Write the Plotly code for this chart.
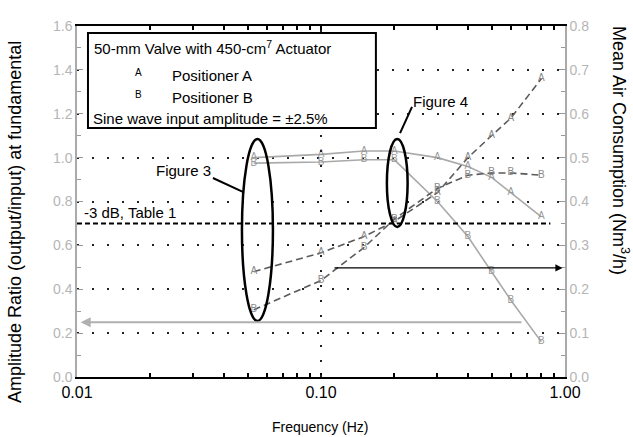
import plotly.graph_objects as go

# ---------------- data ----------------
freq = [0.053, 0.1, 0.15, 0.2, 0.3, 0.4, 0.5, 0.6, 0.8]
# amplitude ratio (left axis)
amp_a = [1.0, 1.015, 1.03, 1.03, 1.0, 0.96, 0.91, 0.84, 0.73]
amp_b = [0.975, 0.98, 0.99, 0.99, 0.80, 0.64, 0.48, 0.35, 0.16]
# mean air consumption (right axis, Nm3/h)
air_a = [0.24, 0.283, 0.32, 0.355, 0.42, 0.50, 0.55, 0.59, 0.68]
air_b = [0.153, 0.22, 0.295, 0.36, 0.43, 0.46, 0.465, 0.465, 0.46]

x_tickvals = [k * 10 ** d for d in (-2, -1) for k in range(1, 10)] + [1.0]
x_ticktext = ["0.01" if v == 0.01 else "0.10" if v == 0.1 else "1.00" if v == 1.0 else "" for v in x_tickvals]

# ---------------- geometry helpers ----------------
W, H = 633, 437
L, R, T, B = 77, 565, 26, 377


def px(x):
    return (x - L) / (R - L)


def py(y):
    return (B - y) / (B - T)


FONT = "Liberation Sans, Arial, sans-serif"
LIGHT = "#a9a9a9"
DARK = "#5a5a5a"

fig = go.Figure()

fig.add_trace(go.Scatter(x=freq, y=amp_a, mode="lines+text", text=["A"] * len(freq),
                         textposition="middle center", textfont=dict(size=10, color="#999", family=FONT),
                         line=dict(color=LIGHT, width=1.6), xaxis="x", yaxis="y"))
fig.add_trace(go.Scatter(x=freq, y=amp_b, mode="lines+text", text=["B"] * len(freq),
                         textposition="middle center", textfont=dict(size=10, color="#999", family=FONT),
                         line=dict(color=LIGHT, width=1.6), xaxis="x", yaxis="y"))
fig.add_trace(go.Scatter(x=freq, y=air_a, mode="lines+text", text=["A"] * len(freq),
                         textposition="middle center", textfont=dict(size=10, color="#888", family=FONT),
                         line=dict(color=DARK, width=1.6, dash="7px,4px"), xaxis="x", yaxis="y2"))
fig.add_trace(go.Scatter(x=freq, y=air_b, mode="lines+text", text=["B"] * len(freq),
                         textposition="middle center", textfont=dict(size=10, color="#888", family=FONT),
                         line=dict(color=DARK, width=1.6, dash="7px,4px"), xaxis="x", yaxis="y2"))
# dummy trace for the helper linear axis (log10 units) used by shapes
fig.add_trace(go.Scatter(x=[], y=[], xaxis="x2", yaxis="y", showlegend=False))

shapes = []
# vertical dotted grid at 0.1 Hz
shapes.append(dict(type="line", xref="x2", yref="y", x0=-1, x1=-1, y0=0, y1=1.6,
                   line=dict(color="#222", width=2, dash="2px,13px"), layer="above"))
# legend box
shapes.append(dict(type="rect", xref="x2", yref="y", x0=-1.955, x1=-0.775, y0=1.135, y1=1.568,
                   fillcolor="white", line=dict(color="black", width=2)))
# -3 dB line
shapes.append(dict(type="line", xref="x2", yref="y", x0=-2, x1=-0.06, y0=0.7, y1=0.7,
                   line=dict(color="black", width=2, dash="5px,3px")))
# ellipses
shapes.append(dict(type="circle", xref="x2", yref="y", x0=-1.324, x1=-1.197, y0=0.255, y1=1.085,
                   line=dict(color="black", width=2.5)))
shapes.append(dict(type="circle", xref="x2", yref="y", x0=-0.730, x1=-0.645, y0=0.684, y1=1.085,
                   line=dict(color="black", width=2.5)))
# leader lines
shapes.append(dict(type="line", xref="x2", yref="y", x0=-1.443, y0=0.907, x1=-1.318, y1=0.843,
                   line=dict(color="black", width=2)))
shapes.append(dict(type="line", xref="x2", yref="y", x0=-0.676, y0=1.112, x1=-0.627, y1=1.231,
                   line=dict(color="black", width=2)))

ann = []


def text(x, y, s, size=15, xanchor="left", color="black", angle=0):
    ann.append(dict(xref="paper", yref="paper", x=px(x), y=py(y), text=s, showarrow=False,
                    xanchor=xanchor, yanchor="middle", textangle=angle,
                    font=dict(family=FONT, size=size, color=color)))


text(92, 48, "50-mm Valve with 450-cm<sup>7</sup> Actuator", 15)
text(138, 72, "A", 10, "center")
text(170, 75, "Positioner A", 15)
text(138, 95, "B", 10, "center")
text(170, 97, "Positioner B", 15)
text(91, 118, "Sine wave input amplitude = ±2.5%", 15)
text(213, 170, "Figure 3", 15, "right")
text(411, 101, "Figure 4", 15)
text(82, 213, "-3 dB, Table 1", 15)
text(15, 222, "Amplitude Ratio (output/input) at fundamental", 18, "center", angle=-90)
text(621, 150, "Mean Air Consumption (Nm<sup>3</sup>/h)", 18, "center", angle=90)
text(320, 427, "Frequency (Hz)", 14, "center")

# arrows
ann.append(dict(xref="x2", yref="y", axref="x2", ayref="y", x=-1.985, y=0.25, ax=-0.172, ay=0.25,
                text="", showarrow=True, arrowhead=2, arrowsize=1, arrowwidth=2, arrowcolor="#b0b0b0"))
ann.append(dict(xref="x2", yref="y", axref="x2", ayref="y", x=-0.01, y=0.497, ax=-0.951, ay=0.497,
                text="", showarrow=True, arrowhead=2, arrowsize=1.2, arrowwidth=1.2, arrowcolor="black"))

fig.update_layout(
    width=W, height=H,
    margin=dict(l=L, r=W - R, t=T, b=H - B),
    paper_bgcolor="white", plot_bgcolor="white",
    showlegend=False,
    font=dict(family=FONT),
    xaxis=dict(type="log", range=[-2, 0], tickvals=x_tickvals, ticktext=x_ticktext,
               ticks="inside", ticklen=4, tickcolor="black", tickwidth=1.5,
               showline=True, linecolor="black", linewidth=2, mirror="ticks",
               showgrid=False, zeroline=False,
               tickfont=dict(size=16, color="black", family=FONT)),
    xaxis2=dict(type="linear", range=[-2, 0], overlaying="x", anchor="y", visible=False),
    yaxis=dict(range=[0, 1.6], dtick=0.2, tickformat=".1f", ticks="inside", ticklen=6,
               tickcolor="#999", showline=True, linecolor="#aaa", linewidth=1.5,
               showgrid=True, gridcolor="#222", gridwidth=2, griddash="2px,13px", zeroline=False,
               minor=dict(dtick=0.1, ticks="inside", ticklen=4, tickcolor="#999", showgrid=False),
               tickfont=dict(size=14, color="#b5b5b5", family=FONT)),
    yaxis2=dict(range=[0, 0.8], dtick=0.1, tickformat=".1f", overlaying="y", side="right",
                ticks="inside", ticklen=6, tickcolor="#999", showline=True, linecolor="#aaa",
                linewidth=1.5, showgrid=False, zeroline=False,
                minor=dict(dtick=0.05, ticks="inside", ticklen=4, tickcolor="#999", showgrid=False),
                tickfont=dict(size=14, color="#b5b5b5", family=FONT)),
    shapes=shapes,
    annotations=ann,
)

fig.write_html("out.html")
